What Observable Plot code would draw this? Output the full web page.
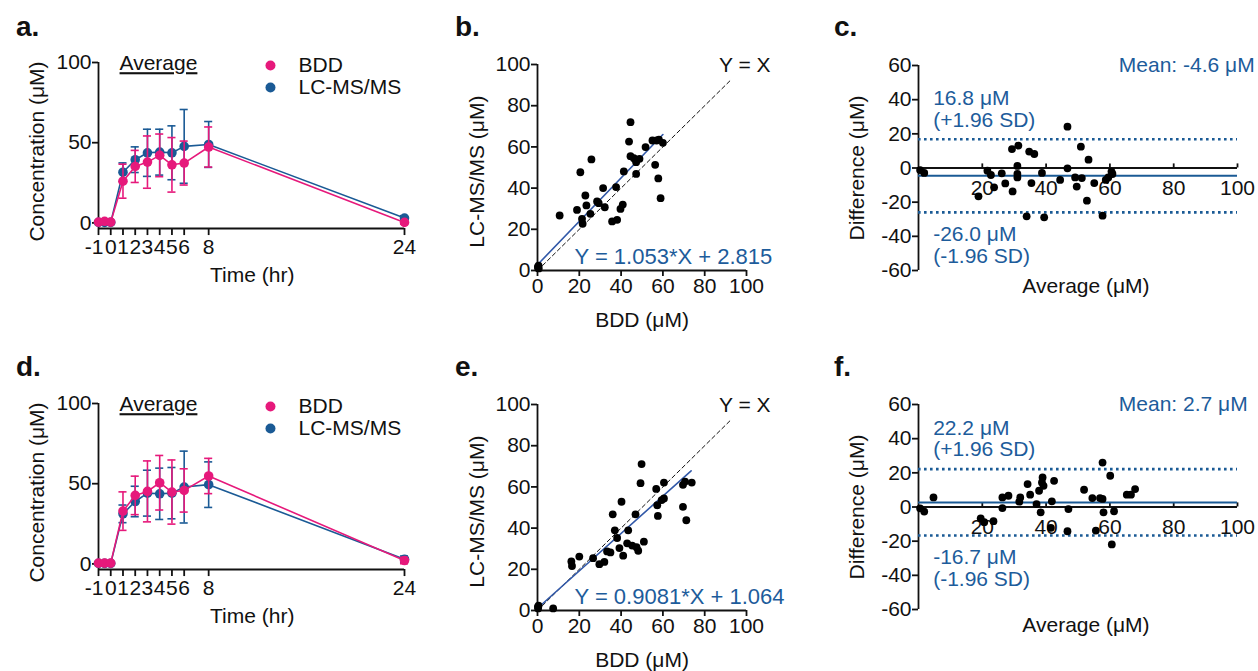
<!DOCTYPE html>
<html><head><meta charset="utf-8">
<script src="https://cdn.jsdelivr.net/npm/d3@7"></script>
<script src="https://cdn.jsdelivr.net/npm/@observablehq/plot@0.6"></script>
<style>
body{margin:0;background:#fff;font-family:"Liberation Sans",Arial,Helvetica,sans-serif;}
#root{position:relative;width:1258px;height:671px;overflow:hidden;background:#fff;}
.panel{position:absolute;}
.letter{position:absolute;font-weight:bold;font-size:28px;line-height:1;color:#111;}
</style></head><body><div id="root"></div><script>
// ---------- data ----------
const timeTicks = [-1,0,1,2,3,4,5,6,8,24];
const times = [-1,-0.5,0,1,2,3,4,5,6,8,24];
// panel a
const aBddMean = [0.5,1.0,0.5,26.0,35.2,37.9,42.1,36.2,37.3,47.3,0.3];
const aBddSD   = [0,0,0,10.6,10.0,16.3,13.3,17.0,13.7,12.5,1.0];
const aLcMean  = [0.3,0.3,0.3,31.6,39.4,43.7,44.1,43.7,47.7,48.9,3.0];
const aLcSD    = [0,0,0,5.8,8.0,14.7,14.3,16.8,23.0,14.3,1.5];
// panel d
const dBddMean = [0.5,0.5,0.5,32.9,42.7,45.2,50.6,44.8,45.8,54.8,2.1];
const dBddSD   = [0,0,0,12.0,12.0,19.0,17.0,20.0,13.5,11.0,2.0];
const dLcMean  = [0.3,0.3,0.3,31.2,38.9,44.1,43.7,44.1,47.9,49.4,2.9];
const dLcSD    = [0,0,0,5.5,9.5,14.3,16.0,16.0,22.4,14.2,2.0];
// panel b scatter
const bX = [0.3,0.5,0.2,0.6,10.6,18.9,20.5,21.3,21.6,22.9,23.4,25.3,25.8,28.5,29.3,31.4,32.2,35.7,37.6,38.1,39.7,40.8,41.3,43.8,44.5,44.5,46.1,47.2,47.2,48.8,51.7,55.0,56.3,57.0,57.8,58.1,58.9,60.0];
const bY = [1.2,2.4,1.8,1.0,26.7,29.4,47.7,25.1,22.7,36.4,31.6,27.5,53.9,33.5,32.7,40.0,30.7,23.8,40.5,24.6,29.9,32.0,48.1,62.6,72.0,55.5,54.5,46.9,52.6,54.2,59.9,63.1,51.3,63.1,44.7,63.5,35.1,62.0];
const bReg = [{x:0,y:2.8},{x:60,y:66.0}];
const bEq = "Y = 1.053*X + 2.815";
// panel e scatter
const eX = [0.3,0.5,0.2,7.5,16.2,16.5,20,26.6,29.6,32,33.3,34.9,36,37,38.1,39.2,40.2,41,43.4,42.9,45.3,46.9,47.4,48.2,49.3,49.8,50.9,56.8,57.3,57.6,59.4,60.5,60.5,69.6,69.6,70.6,71.2,73.8];
const eY = [1.0,2.4,1.8,1.0,23.8,21.6,26.2,25.4,22.5,23.6,28.7,28.2,46.7,38.9,35.2,30.3,52.8,26.6,38.9,32.6,31.5,46.7,30.7,29.0,61.8,71.1,33.4,59.0,51.1,45.9,53.6,62.1,54.4,50.3,61.0,62.6,43.8,62.1];
const eReg = [{x:0,y:1.1},{x:73.5,y:67.8}];
const eEq = "Y = 0.9081*X + 1.064";
const identity = [{x:0,y:0},{x:92,y:92}];
const scatterTicks = [0,20,40,60,80,100];
// panel c Bland-Altman
const cX = [0.5,1.8,18.8,21.6,22.7,23.7,26.1,27.2,29.3,29.5,31.3,31.0,31.0,31.0,33.9,34.7,35.4,36.3,38.7,39.4,44.4,46.7,46.7,49.1,49.6,50.9,51.2,52.8,53.3,55.1,57.7,58.7,59.5,60.5,60.8];
const cY = [-1.2,-2.9,-16.6,-1.6,-4.1,-11.3,-3.1,-9.0,11.1,-13.7,13.1,1.2,-5.5,-3.5,-28.3,9.6,-8.8,8.2,-2.9,-28.9,-7.0,24.2,-0.2,-5.5,-10.9,12.5,-5.9,-19.1,4.9,-8.8,-27.9,-7.0,-5.5,-2.1,-3.5];
const cStats = {mean:-4.6, upper:16.8, lower:-26.0};
const cLabels = ["Mean: -4.6 μM","16.8 μM","(+1.96 SD)","-26.0 μM","(-1.96 SD)"];
// panel f Bland-Altman
const fX = [0.5,1.8,4.7,19.5,20.6,23.5,26.3,26.3,28.2,31.6,31.9,34.2,35,37,37.8,38.3,38.9,38.7,39.2,41.5,41.8,42.5,47,46.7,51.9,54.5,55.6,56.9,57.7,57.7,58,60.1,60.6,61.3,65.3,66.6,67.9];
const fY = [-0.8,-2.7,5.6,-6.6,-8.9,-8.3,5.6,-0.6,6.6,3.1,5.6,13.4,7.2,1.7,9.5,-3.1,17.3,14.4,12.4,-12.2,3.3,15.3,-1.2,-14.2,10.1,5.2,-13.8,5.2,4.7,26,-3.1,18.3,-21.9,-2.5,7.2,7.2,10.5];
const fStats = {mean:2.7, upper:22.2, lower:-16.7};
const fLabels = ["Mean: 2.7 μM","22.2 μM","(+1.96 SD)","-16.7 μM","(-1.96 SD)"];
const baYTicks = [-60,-40,-20,0,20,40,60];
const baXTicks = [20,40,60,80,100];
const seriesNames = ["BDD","LC-MS/MS"];

// ---------- style ----------
const FONT = "'Liberation Sans', Arial, Helvetica, sans-serif";
const FS = 21;
const PINK = "#e6197b", BLUE = "#1a5a95", REG = "#3158a8", TBLUE = "#1d5c9b", INK = "#111";
const baseStyle = {fontFamily: FONT, fontSize: FS + "px", color: INK, background: "transparent", overflow: "visible"};
const root = document.getElementById("root");
function place(svg, left, top) {
  const d = document.createElement("div");
  d.className = "panel"; d.style.left = left + "px"; d.style.top = top + "px";
  d.appendChild(svg); root.appendChild(d);
}
function letter(t, left, top) {
  const d = document.createElement("div");
  d.className = "letter"; d.style.left = left + "px"; d.style.top = top + "px";
  d.textContent = t; root.appendChild(d);
}

function timeCourse(bm, bs, lm, ls) {
  const bdd = times.map((t,i)=>({t, m:bm[i], s:bs[i]}));
  const lc = times.map((t,i)=>({t, m:lm[i], s:ls[i]}));
  const cap = 0.33;
  const series = (rows, color) => {
    const e = rows.filter(d=>d.s>0);
    return [
      Plot.ruleX(e, {x:"t", y1:d=>d.m-d.s, y2:d=>d.m+d.s, stroke:color, strokeWidth:1.6}),
      Plot.ruleY(e, {y:d=>d.m+d.s, x1:d=>d.t-cap, x2:d=>d.t+cap, stroke:color, strokeWidth:1.6}),
      Plot.ruleY(e, {y:d=>d.m-d.s, x1:d=>d.t-cap, x2:d=>d.t+cap, stroke:color, strokeWidth:1.6}),
      Plot.line(rows, {x:"t", y:"m", stroke:color, strokeWidth:1.6}),
      Plot.dot(rows, {x:"t", y:"m", r:4.8, fill:color})
    ];
  };
  const legend = [{n:seriesNames[0], c:PINK, y:98.1},{n:seriesNames[1], c:BLUE, y:84.4}];
  const svg = Plot.plot({
    width:420, height:300, marginLeft:98, marginRight:16, marginTop:62, marginBottom:72,
    x:{domain:[-1,24], axis:null}, y:{domain:[-3.5,100]},
    style: baseStyle,
    marks:[
      Plot.axisY([0,50,100], {tickSize:6, tickPadding:1, tickFormat:String, label:null, strokeWidth:1.8, fontSize:FS}),
      Plot.ruleX(timeTicks, {x:d=>d, y1:-3.5, y2:-7.9, strokeWidth:1.8, stroke:INK}),
      Plot.text(timeTicks.filter(t=>t!==-1), {x:d=>d, y:-3.5, dy:19, text:d=>String(d), fontSize:FS, fill:INK}),
      Plot.text(timeTicks.filter(t=>t===-1), {x:d=>d, y:-3.5, dy:19, dx:-4.5, text:d=>String(d), fontSize:FS, fill:INK}),
      Plot.ruleX([-1], {y1:-3.5, y2:100, strokeWidth:1.8, stroke:INK}),
      Plot.ruleY([-3.5], {x1:-1, x2:24, strokeWidth:1.8, stroke:INK}),
      ...series(lc, BLUE), ...series(bdd, PINK),
      Plot.dot(legend, {x:13.05, y:"y", r:5, fill:"c"}),
      Plot.text(legend, {x:13.05, y:"y", text:"n", dx:28, textAnchor:"start", fontSize:FS, fill:INK}),
      Plot.text(["Average"], {x:0.72, y:99.4, text:d=>d, textAnchor:"start", fontSize:FS, fill:INK}),
      Plot.text(["Concentration (μM)"], {x:-1, y:44.5, text:d=>d, rotate:-90, dx:-61, fontSize:FS, fill:INK}),
      Plot.text(["Time (hr)"], {x:11.56, y:-3.5, text:d=>d, dy:47, fontSize:FS, fill:INK})
    ]
  });
  d3.select(svg).selectAll("text").filter(function(){return this.textContent==="Average";}).style("text-decoration","underline");
  return svg;
}

function scatter(xs, ys, reg, eq) {
  const rows = xs.map((x,i)=>({x, y:ys[i]}));
  return Plot.plot({
    width:360, height:340, marginLeft:107, marginRight:44, marginTop:64, marginBottom:70,
    x:{domain:[0,100]}, y:{domain:[0,100]},
    style: baseStyle,
    marks:[
      Plot.axisY(scatterTicks, {tickSize:6, tickPadding:1, tickFormat:String, label:null, strokeWidth:1.8, fontSize:FS}),
      Plot.axisX(scatterTicks, {tickSize:6, tickPadding:2, tickFormat:String, label:null, strokeWidth:1.8, fontSize:FS}),
      Plot.ruleX([0], {strokeWidth:1.8, stroke:INK}),
      Plot.ruleY([0], {strokeWidth:1.8, stroke:INK}),
      Plot.line(identity, {x:"x", y:"y", stroke:INK, strokeWidth:1, strokeDasharray:"4,3"}),
      Plot.line(reg, {x:"x", y:"y", stroke:REG, strokeWidth:1.6}),
      Plot.dot(rows, {x:"x", y:"y", r:3.9, fill:"#000"}),
      Plot.text(["Y = X"], {x:100, y:100, text:d=>d, dx:24, dy:1, textAnchor:"end", fontSize:FS, fill:INK}),
      Plot.text([eq], {x:17.7, y:6.8, text:d=>d, textAnchor:"start", fontSize:22, fill:TBLUE}),
      Plot.text(["LC-MS/MS (μM)"], {x:0, y:48, text:d=>d, rotate:-90, dx:-60, fontSize:FS, fill:INK}),
      Plot.text(["BDD (μM)"], {x:50, y:0, text:d=>d, dy:50, fontSize:FS, fill:INK})
    ]
  });
}

function blandAltman(xs, ys, st, lab) {
  const rows = xs.map((x,i)=>({x, y:ys[i]}));
  return Plot.plot({
    width:438, height:300, marginLeft:98, marginRight:21, marginTop:65, marginBottom:30,
    x:{domain:[0,100], axis:null}, y:{domain:[-60,60]},
    style: baseStyle,
    marks:[
      Plot.axisY(baYTicks, {tickSize:6, tickPadding:1, tickFormat:String, label:null, strokeWidth:1.8, fontSize:FS}),
      Plot.ruleX([0], {y1:-60, y2:60, strokeWidth:1.8, stroke:INK}),
      Plot.ruleY([0], {x1:0, x2:100, strokeWidth:1.8, stroke:INK}),
      Plot.ruleX(baXTicks, {x:d=>d, y1:0, y2:2.4, strokeWidth:1.8, stroke:INK}),
      Plot.text(baXTicks, {x:d=>d, y:0, text:d=>String(d), dy:20, fontSize:FS, fill:INK}),
      Plot.ruleY([st.upper, st.lower], {x1:0, x2:100, stroke:BLUE, strokeWidth:2.6, strokeDasharray:"2.6,3.4"}),
      Plot.ruleY([st.mean], {x1:0, x2:100, stroke:BLUE, strokeWidth:2}),
      Plot.dot(rows, {x:"x", y:"y", r:3.9, fill:"#000"}),
      Plot.text([lab[0]], {x:62.8, y:60, text:d=>d, textAnchor:"start", fontSize:FS, fill:TBLUE}),
      Plot.text([lab[1]], {x:4.6, y:st.upper, text:d=>d, dy:-41, textAnchor:"start", fontSize:FS, fill:TBLUE}),
      Plot.text([lab[2]], {x:4.6, y:st.upper, text:d=>d, dy:-19.5, textAnchor:"start", fontSize:FS, fill:TBLUE}),
      Plot.text([lab[3]], {x:4.6, y:st.lower, text:d=>d, dy:21.5, textAnchor:"start", fontSize:FS, fill:TBLUE}),
      Plot.text([lab[4]], {x:4.6, y:st.lower, text:d=>d, dy:43.5, textAnchor:"start", fontSize:FS, fill:TBLUE}),
      Plot.text(["Difference (μM)"], {x:0, y:0, text:d=>d, rotate:-90, dx:-61, fontSize:FS, fill:INK}),
      Plot.text(["Average (μM)"], {x:52.5, y:-60, text:d=>d, dy:16, fontSize:FS, fill:INK})
    ]
  });
}

const ROW2 = 340;
place(timeCourse(aBddMean, aBddSD, aLcMean, aLcSD), 0, 0);
place(scatter(bX, bY, bReg, bEq), 430, 0);
place(blandAltman(cX, cY, cStats, cLabels), 820, 0);
place(timeCourse(dBddMean, dBddSD, dLcMean, dLcSD), 0, ROW2 + 1);
place(scatter(eX, eY, eReg, eEq), 430, ROW2);
place(blandAltman(fX, fY, fStats, fLabels), 820, ROW2 - 1);
letter("a.", 16, 13); letter("b.", 455, 13); letter("c.", 834, 13);
letter("d.", 16, 353); letter("e.", 455, 353); letter("f.", 834, 353);
</script></body></html>
